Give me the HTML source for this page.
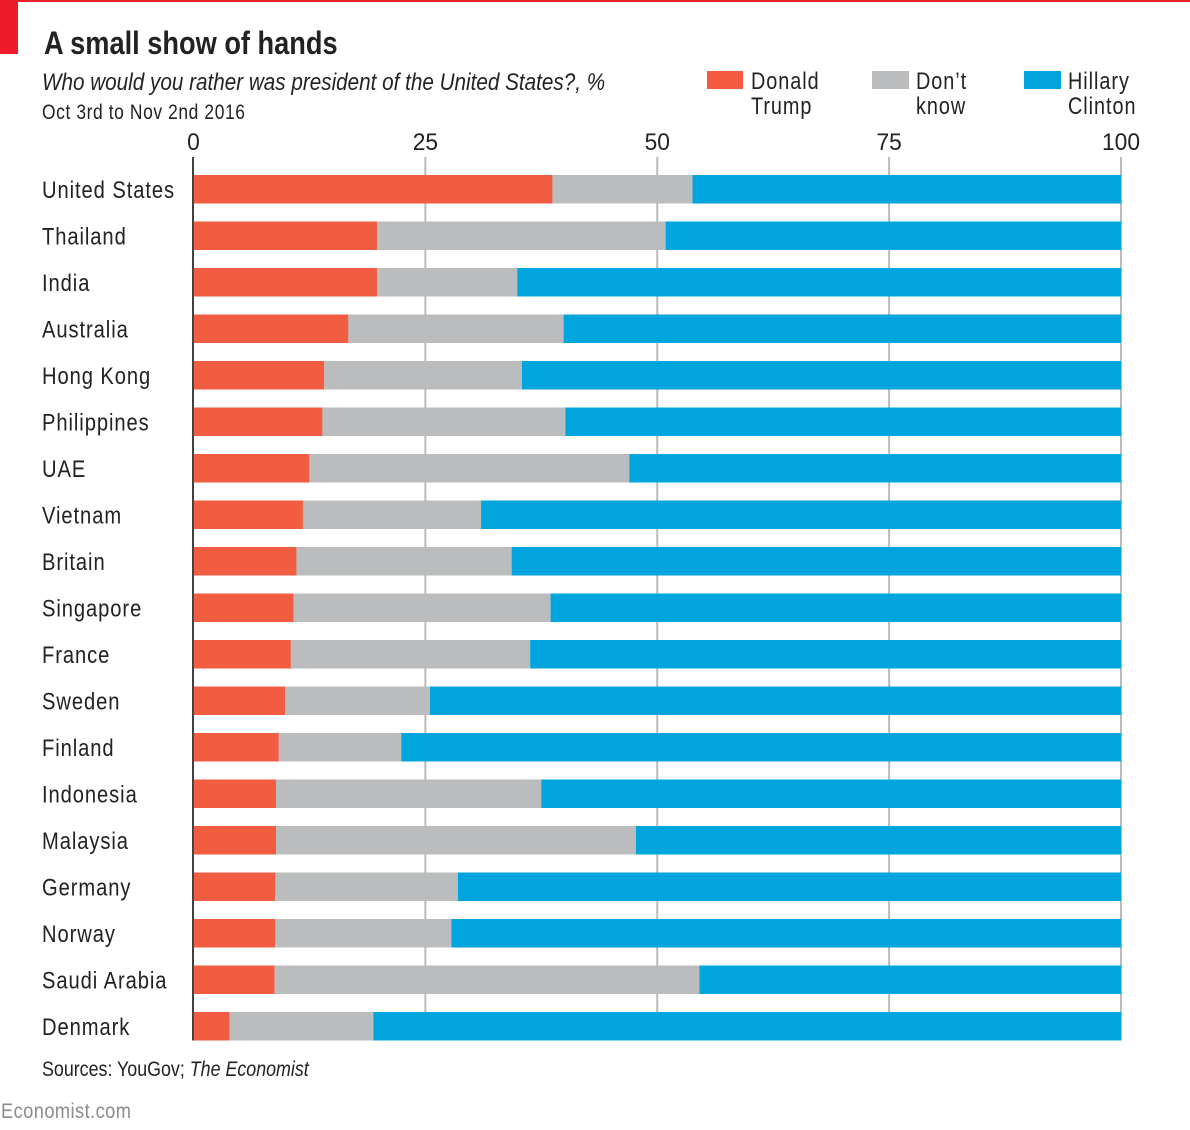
<!DOCTYPE html>
<html>
<head>
<meta charset="utf-8">
<title>A small show of hands</title>
<style>
html,body{margin:0;padding:0;background:#fff;width:1190px;height:1130px;overflow:hidden}
svg{display:block}
text{font-family:"Liberation Sans",sans-serif;fill:#222}
</style>
</head>
<body>
<svg id="chart" xmlns="http://www.w3.org/2000/svg" width="1190" height="1130" viewBox="0 0 1190 1130">
<rect width="1190" height="1130" fill="#fff"/>
<rect x="0" y="0" width="1190" height="2" fill="#e8202a"/>
<rect x="0" y="0" width="18" height="54" fill="#ee1c2a"/>
<text transform="translate(44 54) scale(.85 1)" font-size="32" font-weight="700">A small show of hands</text>
<text transform="translate(42 90) scale(.862 1)" font-size="24" font-style="italic">Who would you rather was president of the United States?, %</text>
<text transform="translate(42 119) scale(.81 1)" font-size="21.500" letter-spacing=".75">Oct 3rd to Nov 2nd 2016</text>
<g>
<rect x="707" y="71" width="36" height="18" fill="#f45b40"/>
<text font-size="24.500" letter-spacing="1.2" transform="translate(751 89) scale(.81 1)">Donald</text>
<text font-size="24.500" letter-spacing="1.2" transform="translate(751 114) scale(.81 1)">Trump</text>
<rect x="872" y="71" width="37" height="18" fill="#bbbcbe"/>
<text font-size="24.500" letter-spacing="1.2" transform="translate(916 89) scale(.81 1)">Don’t</text>
<text font-size="24.500" letter-spacing="1.2" transform="translate(916 114) scale(.81 1)">know</text>
<rect x="1024" y="71" width="37" height="18" fill="#00a5de"/>
<text font-size="24.500" letter-spacing="1.2" transform="translate(1068 89) scale(.81 1)">Hillary</text>
<text font-size="24.500" letter-spacing="1.2" transform="translate(1068 114) scale(.81 1)">Clinton</text>
</g>
<g id="grid"></g>
<g id="bars"></g>
<g id="labels"></g>
<g id="ticks"></g>
<text transform="translate(42 1076) scale(.83 1)" font-size="21.500">Sources: YouGov; <tspan font-style="italic">The Economist</tspan></text>
<text transform="translate(1 1118) scale(.85 1)" font-size="21.500" letter-spacing=".5" style="fill:#8a8c8e">Economist.com</text>
</svg>
<script>
const categories = ["United States","Thailand","India","Australia","Hong Kong","Philippines","UAE","Vietnam","Britain","Singapore","France","Sweden","Finland","Indonesia","Malaysia","Germany","Norway","Saudi Arabia","Denmark"];
const trump = [38.7,19.8,19.8,16.7,14.1,13.9,12.5,11.8,11.1,10.8,10.5,9.9,9.2,8.9,8.9,8.8,8.8,8.75,3.9];
const dontKnow = [15.1,31.1,15.1,23.2,21.3,26.2,34.5,19.2,23.2,27.7,25.8,15.6,13.2,28.6,38.8,19.7,19,45.8,15.5];
const clinton = [46.2,49.1,65.1,60.1,64.6,59.9,53,69,65.7,61.5,63.7,74.5,77.6,62.5,52.3,71.5,72.2,45.45,80.6];
const tickLabels = [0,25,50,75,100];

const NS = 'http://www.w3.org/2000/svg';
const plotLeft = 193.5, plotRight = 1121, firstBarTop = 175, barStep = 46.5, barHeight = 28.5;
const xScale = function (v) { return plotLeft + (plotRight - plotLeft) * v / 100; };
const yScale = function (i) { return firstBarTop + barStep * i; };
const plotBottom = yScale(categories.length - 1) + barHeight;

const gridGroup = document.getElementById('grid');
const barsGroup = document.getElementById('bars');
const labelsGroup = document.getElementById('labels');
const ticksGroup = document.getElementById('ticks');

tickLabels.forEach(function (t) {
  const line = document.createElementNS(NS, 'line');
  
  
  const lineX = t === 0 ? xScale(t) - 0.5 : xScale(t);
  line.setAttribute('x1', lineX);
  line.setAttribute('x2', lineX);
  line.setAttribute('y1', 157);
  line.setAttribute('y2', plotBottom);
  line.setAttribute('stroke', t === 0 ? '#111111' : '#b9babc');
  line.setAttribute('stroke-width', t === 0 ? 1.6 : 2);
  gridGroup.appendChild(line);

  const label = document.createElementNS(NS, 'text');
  
  
  label.setAttribute('transform', 'translate(' + xScale(t) + ' 150) scale(.95 1)');
  label.setAttribute('text-anchor', 'middle');
  label.setAttribute('font-size', '24');
  label.textContent = t;
  ticksGroup.appendChild(label);
});

categories.forEach(function (name, i) {
  const y = yScale(i);
  const t0 = 0;
  const t1 = t0 + trump[i];
  const t2 = t1 + dontKnow[i];
  const t3 = t2 + clinton[i];

  const rectTrump = document.createElementNS(NS, 'rect');
  
  
  rectTrump.setAttribute('x', xScale(t0));
  rectTrump.setAttribute('y', y);
  rectTrump.setAttribute('width', xScale(t1) - xScale(t0));
  rectTrump.setAttribute('height', barHeight);
  rectTrump.setAttribute('fill', '#f25c40');
  barsGroup.appendChild(rectTrump);

  const rectDontKnow = document.createElementNS(NS, 'rect');
  
  
  rectDontKnow.setAttribute('x', xScale(t1));
  rectDontKnow.setAttribute('y', y);
  rectDontKnow.setAttribute('width', xScale(t2) - xScale(t1));
  rectDontKnow.setAttribute('height', barHeight);
  rectDontKnow.setAttribute('fill', '#bbbcbe');
  barsGroup.appendChild(rectDontKnow);

  const rectClinton = document.createElementNS(NS, 'rect');
  
  
  rectClinton.setAttribute('x', xScale(t2));
  rectClinton.setAttribute('y', y);
  rectClinton.setAttribute('width', xScale(t3) - xScale(t2));
  rectClinton.setAttribute('height', barHeight);
  rectClinton.setAttribute('fill', '#00a5de');
  barsGroup.appendChild(rectClinton);

  const label = document.createElementNS(NS, 'text');
  
  
  label.setAttribute('transform', 'translate(42 ' + (y + 23) + ') scale(.84 1)');
  label.setAttribute('font-size', '24');
  label.setAttribute('letter-spacing', '1.1');
  label.textContent = name;
  labelsGroup.appendChild(label);
});
</script>
</body>
</html>
